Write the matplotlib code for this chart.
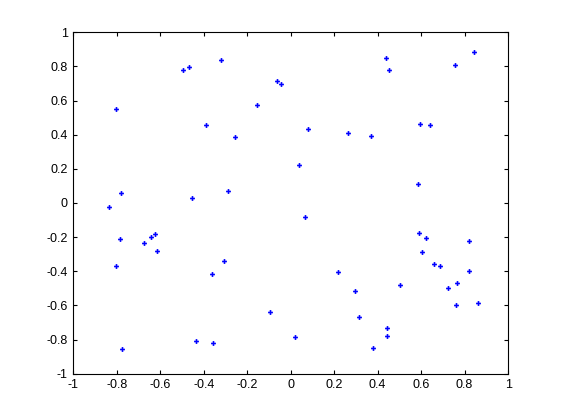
import numpy as np
import matplotlib
matplotlib.use("Agg")
import matplotlib.pyplot as plt

# point coordinates
x_vals = [-0.834, -0.802, -0.779, -0.494, -0.467, -0.453, -0.390, -0.320, -0.287, -0.255,
          -0.154, -0.062, -0.044,
          0.080, 0.039, 0.264, 0.370, 0.439, 0.453, 0.595, 0.641, 0.586, 0.756, 0.844,
          -0.784, -0.802, -0.674, -0.641, -0.626, -0.614, -0.775, -0.434, -0.356, -0.361,
          -0.306, -0.094,
          0.067, 0.021, 0.218, 0.297, 0.315, 0.444, 0.444, 0.379, 0.503, 0.591, 0.623,
          0.605, 0.660, 0.687, 0.821, 0.821, 0.724, 0.766, 0.761, 0.862]
y_vals = [-0.025, 0.549, 0.057, 0.777, 0.795, 0.027, 0.455, 0.836, 0.068, 0.385,
          0.572, 0.713, 0.695,
          0.432, 0.221, 0.408, 0.391, 0.848, 0.777, 0.461, 0.455, 0.110, 0.807, 0.883,
          -0.213, -0.371, -0.236, -0.201, -0.184, -0.283, -0.857, -0.810, -0.822, -0.418,
          -0.342, -0.640,
          -0.084, -0.787, -0.406, -0.517, -0.670, -0.734, -0.781, -0.851, -0.482, -0.178, -0.207,
          -0.289, -0.359, -0.371, -0.224, -0.400, -0.500, -0.470, -0.599, -0.588]
ticks = [-1, -0.8, -0.6, -0.4, -0.2, 0, 0.2, 0.4, 0.6, 0.8, 1]
tick_labels = ['-1', '-0.8', '-0.6', '-0.4', '-0.2', '0', '0.2', '0.4', '0.6', '0.8', '1']

plt.rcParams['font.family'] = ['Liberation Sans', 'DejaVu Sans']

fig = plt.figure(figsize=(5.61, 4.2), dpi=100)
ax = fig.add_axes([0.1307, 0.1102, 0.775, 0.813])
ax.plot(x_vals, y_vals, linestyle='none', marker='P', markersize=3.5,
        color='#0000ff', markeredgewidth=0)

ax.set_xlim(-1, 1)
ax.set_ylim(-1, 1)
ax.set_xticks(ticks)
ax.set_xticklabels(tick_labels)
ax.set_yticks(ticks)
ax.set_yticklabels(tick_labels)
ax.tick_params(direction='in', length=3, width=0.8, top=True, right=True,
               labelsize=9, pad=4)
for s in ax.spines.values():
    s.set_linewidth(0.8)

fig.savefig('out.png', dpi=100)
